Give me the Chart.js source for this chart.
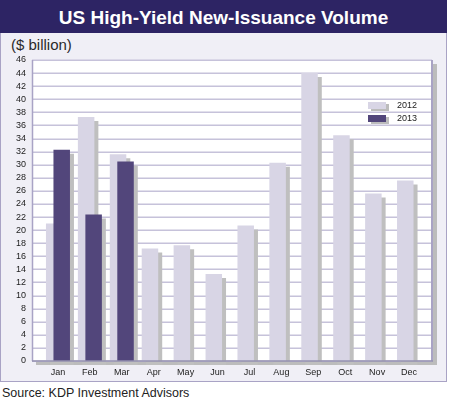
<!DOCTYPE html>
<html>
<head>
<meta charset="utf-8">
<script src="https://cdn.jsdelivr.net/npm/chart.js@4/dist/chart.umd.min.js"></script>
<style>
  body { margin: 0; width: 450px; height: 404px; background: #fff; position: relative; overflow: hidden; font-family: "Liberation Sans", Arial, sans-serif; }
  #titlebar { position: absolute; left: 0; top: 0; width: 447px; height: 33px; background: #2d2464; color: #fff;
    font-weight: bold; font-size: 19px; line-height: 35px; text-align: center; }
  #panel { position: absolute; left: 0; top: 33px; width: 447px; height: 349px; box-sizing: border-box;
    background: #f0eff6; border: 1px solid #a9a3c5; border-top: none; }
  #unit { position: absolute; left: 11px; top: 36px; font-size: 15px; color: #2a2a2a; }
  #source { position: absolute; left: 2px; top: 386px; font-size: 12.5px; color: #222; }
  #wrap { position: absolute; left: 0; top: 0; width: 450px; height: 404px; z-index: 2; }
</style>
</head>
<body>
<div id="titlebar">US High-Yield New-Issuance Volume</div>
<div id="panel"></div>
<div id="unit">($ billion)</div>
<div id="source">Source: KDP Investment Advisors</div>
<div id="wrap"><canvas id="chart" width="450" height="404"></canvas></div>
<script>
const months = ["Jan", "Feb", "Mar", "Apr", "May", "Jun", "Jul", "Aug", "Sep", "Oct", "Nov", "Dec"];
const vol2012 = [21, 37.3, 31.6, 17.2, 17.7, 13.3, 20.7, 30.3, 44, 34.5, 25.6, 27.6];
const vol2013 = [32.3, 22.4, 30.5, null, null, null, null, null, null, null, null, null];
const yMin = 0;
const yMax = 46;
const yStep = 2;

// plot box: white field, grid, frame and its drop shadow (drawn wider than the category range)
const plotBox = {
  id: "plotBox",
  beforeDraw(chart) {
    const ctx = chart.ctx;
    const y = chart.scales.y;
    const top = y.getPixelForValue(yMax);
    const bottom = y.getPixelForValue(yMin);
    const left = 32, right = 432;
    ctx.save();
    ctx.fillStyle = "#bcbcbc";
    ctx.fillRect(left + 4, top + 4, right - left + 1, bottom - top);
    ctx.fillStyle = "#ffffff";
    ctx.fillRect(left, top, right - left, bottom - top);
    ctx.strokeStyle = "#c6c2da";
    ctx.lineWidth = 1.5;
    y.ticks.forEach(function (t) {
      const py = Math.round(y.getPixelForValue(t.value)) + 0.25;
      ctx.beginPath();
      ctx.moveTo(left, py);
      ctx.lineTo(right, py);
      ctx.stroke();
    });
    ctx.strokeStyle = "#a9a3c5";
    ctx.lineWidth = 1.5;
    ctx.beginPath();
    ctx.moveTo(left + 0.5, top);
    ctx.lineTo(left + 0.5, bottom);
    ctx.stroke();
    ctx.lineWidth = 2;
    ctx.beginPath();
    ctx.moveTo(right, top);
    ctx.lineTo(right, bottom);
    ctx.stroke();
    ctx.restore();
  },
  afterDraw(chart) {
    const ctx = chart.ctx;
    const y = chart.scales.y;
    const bottom = y.getPixelForValue(yMin);
    ctx.save();
    ctx.strokeStyle = "#9590b0";
    ctx.lineWidth = 1.5;
    ctx.beginPath();
    ctx.moveTo(32, bottom);
    ctx.lineTo(433, bottom);
    ctx.stroke();

    // legend, top right inside the plot
    ctx.font = "9px 'Liberation Sans', Arial, sans-serif";
    ctx.textBaseline = "middle";
    chart.data.datasets.forEach(function (ds, i) {
      const sy = 102 + i * 13;
      ctx.fillStyle = "#bcbcbc";
      ctx.fillRect(371, sy + 2, 18, 7);
      ctx.fillStyle = ds.backgroundColor;
      ctx.fillRect(368, sy, 18, 7);
      ctx.fillStyle = "#222";
      ctx.fillText(ds.label, 397, sy + 4);
    });
    ctx.restore();
  }
};

// draw 2012 first and 2013 over it, both with a flat drop shadow
const barShadow = {
  id: "barShadow",
  beforeDatasetsDraw(chart) {
    const ctx = chart.ctx;
    ctx.save();
    ctx.shadowColor = "#bfbfbf";
    ctx.shadowOffsetX = 4;
    ctx.shadowOffsetY = 4;
    ctx.shadowBlur = 0;
    chart.data.datasets.forEach(function (ds, i) {
      chart.getDatasetMeta(i).controller.draw();
    });
    ctx.restore();
    return false;
  }
};

var ctx = document.getElementById("chart").getContext("2d");
var myChart = new Chart(ctx, {
  type: "bar",
  data: {
    labels: months,
    datasets: [
      {
        label: "2012",
        data: vol2012,
        backgroundColor: "#d8d5e5",
        borderWidth: 0,
      },
      {
        label: "2013",
        data: vol2013,
        backgroundColor: "#52467b",
        borderWidth: 0,
      },
    ],
  },
  options: {
    responsive: false,
    animation: false,
    categoryPercentage: 0.47,
    barPercentage: 2.2,
    layout: {
      padding: { left: 0, right: 25, top: 60, bottom: 23 },
    },
    plugins: {
      legend: { display: false },
      tooltip: { enabled: false },
    },
    scales: {
      y: {
        min: yMin,
        max: yMax,
        afterFit: function (scale) { scale.width = 42; },
        ticks: {
          stepSize: yStep,
          autoSkip: false,
          padding: 16,
          color: "#222",
          font: { family: "'Liberation Sans', Arial, sans-serif", size: 9 },
        },
        grid: { display: false, drawTicks: false },
        border: { display: false },
      },
      x: {
        afterFit: function (scale) { scale.height = 20; },
        ticks: {
          padding: 6,
          color: "#222",
          font: { family: "'Liberation Sans', Arial, sans-serif", size: 9 },
        },
        grid: { display: false, drawTicks: false },
        border: { display: false },
      },
    },
  },
  plugins: [plotBox, barShadow],
});
</script>
</body>
</html>
